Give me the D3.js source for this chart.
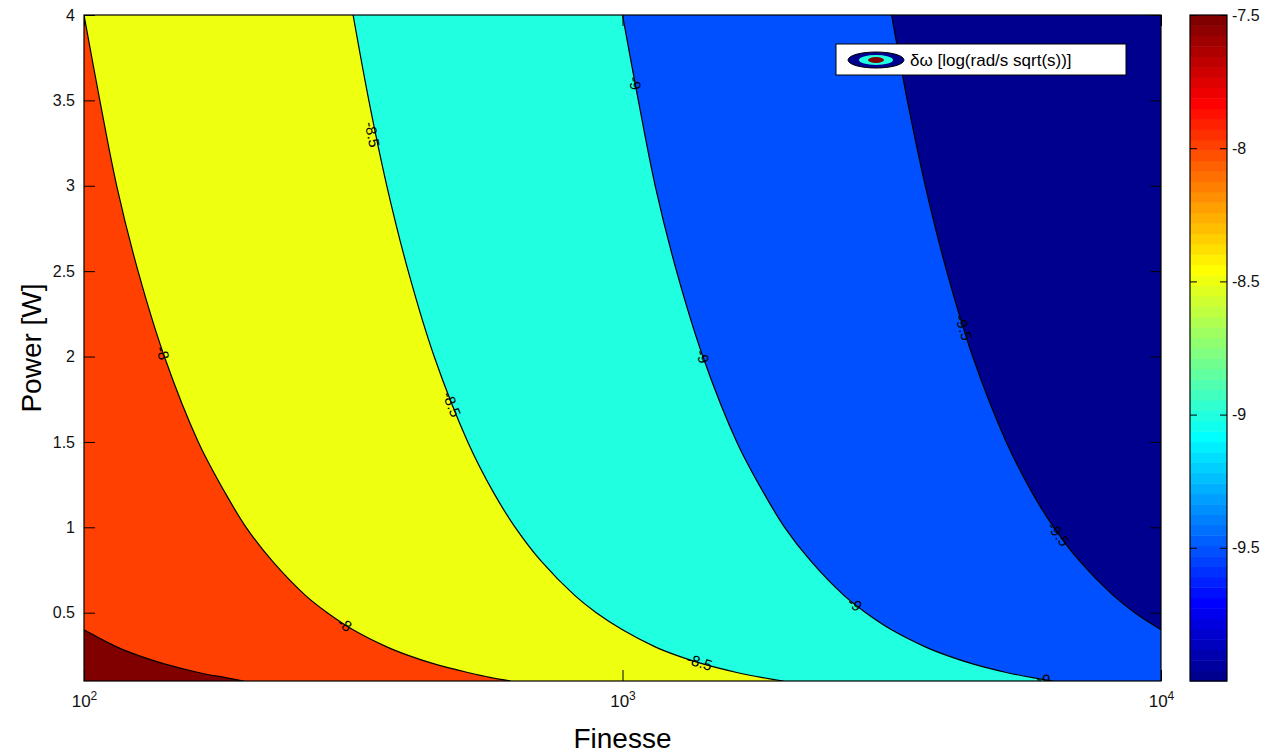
<!DOCTYPE html>
<html>
<head>
<style>
  body { margin: 0; background: #fff; }
  text { font-family: "Liberation Sans", Arial, sans-serif; }
</style>
</head>
<body>

<script src="https://d3js.org/d3.v7.min.js"></script>
<script>

const width = 1282;
const height = 753;

// axis ticks
const finesseTicks = [100, 1000, 10000];
const powerTicks = [0.5, 1, 1.5, 2, 2.5, 3, 3.5, 4];
const colorTicks = [-9.5, -9, -8.5, -8, -7.5];

// contour levels and the [finesse, power] points
const levels = [-9.5, -9, -8.5, -8, -7.5];
const line_m95 = [[3160, 4], [3380, 3.5], [3650, 3], [4000, 2.5], [4470, 2], [5160, 1.5], [5770, 1.2], [6320, 1], [7070, 0.8], [8160, 0.6], [8940, 0.5], [10000, 0.4]];
const line_m9 = [[1000, 4], [1070, 3.5], [1150, 3], [1260, 2.5], [1410, 2], [1630, 1.5], [1830, 1.2], [2000, 1], [2240, 0.8], [2580, 0.6], [2830, 0.5], [3160, 0.4], [3650, 0.3], [4000, 0.25], [4470, 0.2], [5160, 0.15], [5770, 0.12], [6300, 0.1]];
const line_m85 = [[316, 4], [338, 3.5], [365, 3], [400, 2.5], [447, 2], [516, 1.5], [577, 1.2], [632, 1], [707, 0.8], [816, 0.6], [894, 0.5], [1000, 0.4], [1150, 0.3], [1260, 0.25], [1410, 0.2], [1630, 0.15], [1820, 0.12], [1990, 0.1]];
const line_m8 = [[100, 4], [107, 3.5], [115, 3], [126, 2.5], [141, 2], [163, 1.5], [183, 1.2], [200, 1], [224, 0.8], [258, 0.6], [283, 0.5], [316, 0.4], [365, 0.3], [400, 0.25], [447, 0.2], [516, 0.15], [570, 0.12], [620, 0.1]];
const line_m75 = [[100, 0.4], [115, 0.3], [126, 0.25], [141, 0.2], [163, 0.15], [183, 0.12], [198, 0.1]];
const contourLines = [line_m95, line_m9, line_m85, line_m8, line_m75];

// inline labels: [level, finesse, power]
const contourLabels = [
  [-8, 140, 2.02], [-8, 305, 0.43],
  [-8.5, 343, 3.3], [-8.5, 482, 1.72], [-8.5, 1390, 0.21],
  [-9, 1055, 3.6], [-9, 1410, 2.0], [-9, 2700, 0.55], [-9, 6050, 0.11],
  [-9.5, 4300, 2.17], [-9.5, 6450, 0.96]
];

const cmin = -10, cmax = -7.5;

// MATLAB jet(64)
const jet = (() => {
  const m = 64, n = 16, u = [];
  for (let k = 1; k <= n; k++) u.push(k / n);
  for (let k = 1; k < n; k++) u.push(1);
  for (let k = n; k >= 1; k--) u.push(k / n);
  const map = d3.range(m).map(() => [0, 0, 0]);
  u.forEach((v, j) => {
    const g = 8 + j, r = g + n, b = g - n;   // 0-based
    if (r >= 0 && r < m) map[r][0] = v;
    if (g >= 0 && g < m) map[g][1] = v;
    if (b >= 0 && b < m) map[b][2] = v;
  });
  return map.map(c => d3.rgb(c[0] * 255, c[1] * 255, c[2] * 255).toString());
})();
const colorOf = v => jet[Math.max(0, Math.min(63, Math.floor((v - cmin) / (cmax - cmin) * 64)))];

const svg = d3.select('body')
              .append('svg')
              .attr('width', width)
              .attr('height', height);

const plot = { left: 84, right: 1161, top: 15, bottom: 681 };

const x = d3.scaleLog().domain([100, 10000]).range([plot.left, plot.right]);
const y = d3.scaleLinear().domain([0.1, 4]).range([plot.bottom, plot.top]);

svg.append('clipPath').attr('id', 'clip')
   .append('rect')
   .attr('x', plot.left).attr('y', plot.top)
   .attr('width', plot.right - plot.left).attr('height', plot.bottom - plot.top);

const g = svg.append('g').attr('clip-path', 'url(#clip)');

// lowest band
g.append('rect')
 .attr('x', plot.left).attr('y', plot.top)
 .attr('width', plot.right - plot.left).attr('height', plot.bottom - plot.top)
 .attr('fill', colorOf(cmin));

const lineGen = d3.line()
                  .x(d => x(d[0]))
                  .y(d => y(d[1]))
                  .curve(d3.curveCatmullRom);

// region above each level: line + lower-left corners
const regionPath = pts => {
  const corners = [];
  const last = pts[pts.length - 1];
  if (last[0] >= 10000) corners.push([10000, 0.1]);
  corners.push([100, 0.1], [100, 4]);
  return lineGen(pts) + corners.map(c => `L${x(c[0])},${y(c[1])}`).join('') + 'Z';
};

g.selectAll('path.band')
 .data(levels)
 .enter()
 .append('path')
 .attr('class', 'band')
 .attr('d', (lv, i) => regionPath(contourLines[i]))
 .attr('fill', lv => colorOf(lv));

g.selectAll('path.cline')
 .data(contourLines)
 .enter()
 .append('path')
 .attr('class', 'cline')
 .attr('d', lineGen)
 .attr('fill', 'none')
 .attr('stroke', '#000')
 .attr('stroke-width', 1.2);

// contour labels rotated along the line
const labelAngle = (lv, f, p) => {
  const pts = contourLines[levels.indexOf(lv)].map(d => [x(d[0]), y(d[1])]);
  const px = x(f), py = y(p);
  let best = 0, bd = Infinity;
  for (let i = 0; i < pts.length - 1; i++) {
    const mx = (pts[i][0] + pts[i + 1][0]) / 2, my = (pts[i][1] + pts[i + 1][1]) / 2;
    const dd = (mx - px) ** 2 + (my - py) ** 2;
    if (dd < bd) { bd = dd; best = i; }
  }
  let a = Math.atan2(pts[best + 1][1] - pts[best][1], pts[best + 1][0] - pts[best][0]) * 180 / Math.PI;
  if (a > 90) a -= 180;
  if (a <= -90) a += 180;
  return a;
};

g.selectAll('text.clabel')
 .data(contourLabels)
 .enter()
 .append('text')
 .attr('class', 'clabel')
 .attr('transform', d => `translate(${x(d[1])},${y(d[2])}) rotate(${labelAngle(d[0], d[1], d[2])})`)
 .attr('text-anchor', 'middle')
 .attr('dy', '0.35em')
 .attr('font-size', '15px')
 .attr('fill', '#000')
 .text(d => String(d[0]));

// axes
const yAxis = d3.axisLeft(y).tickValues(powerTicks).tickSizeInner(-11).tickSizeOuter(0).tickPadding(9)
                .tickFormat(d => String(d));
const yAxisR = d3.axisRight(y).tickValues(powerTicks).tickSizeInner(-11).tickSizeOuter(0).tickFormat('');
const xAxis = d3.axisBottom(x).tickValues(finesseTicks).tickSizeInner(-11).tickSizeOuter(0).tickPadding(14);
const xAxisT = d3.axisTop(x).tickValues(finesseTicks).tickSizeInner(-11).tickSizeOuter(0).tickFormat('');

const styleAxis = sel => {
  sel.selectAll('path.domain').remove();
  sel.selectAll('line').attr('stroke', '#000');
  sel.selectAll('text').attr('font-size', '16px').attr('fill', '#111')
     .attr('font-family', '"Liberation Sans", Arial, sans-serif');
};

svg.append('g').attr('transform', `translate(${plot.left},0)`).call(yAxis).call(styleAxis);
svg.append('g').attr('transform', `translate(${plot.right},0)`).call(yAxisR).call(styleAxis);
svg.append('g').attr('transform', `translate(0,${plot.top})`).call(xAxisT).call(styleAxis);

const xg = svg.append('g').attr('transform', `translate(0,${plot.bottom})`).call(xAxis).call(styleAxis);
xg.selectAll('.tick text').each(function (d) {
  const t = d3.select(this).text(null).attr('font-size', '17px');
  t.append('tspan').text('10');
  t.append('tspan').attr('dy', '-0.6em').attr('font-size', '12px').text(Math.round(Math.log10(d)));
});

svg.append('rect')
   .attr('x', plot.left).attr('y', plot.top)
   .attr('width', plot.right - plot.left).attr('height', plot.bottom - plot.top)
   .attr('fill', 'none').attr('stroke', '#000').attr('stroke-width', 1.2);

// axis titles
svg.append('text')
   .attr('x', (plot.left + plot.right) / 2).attr('y', 748)
   .attr('text-anchor', 'middle')
   .attr('font-size', '28px')
   .attr('fill', '#000')
   .text('Finesse');

svg.append('text')
   .attr('transform', `translate(41,${(plot.top + plot.bottom) / 2}) rotate(-90)`)
   .attr('text-anchor', 'middle')
   .attr('font-size', '28px')
   .attr('fill', '#000')
   .text('Power [W]');

// legend
const leg = svg.append('g').attr('transform', 'translate(836,44)');
leg.append('rect').attr('width', 290).attr('height', 31).attr('fill', '#fff').attr('stroke', '#000');
leg.append('ellipse').attr('cx', 40).attr('cy', 16).attr('rx', 28).attr('ry', 8)
   .attr('fill', colorOf(cmin)).attr('stroke', '#000');
leg.append('ellipse').attr('cx', 40).attr('cy', 16).attr('rx', 17).attr('ry', 5)
   .attr('fill', colorOf(-9));
leg.append('ellipse').attr('cx', 40).attr('cy', 16).attr('rx', 8).attr('ry', 3)
   .attr('fill', colorOf(-7.5));
leg.append('text').attr('x', 74).attr('y', 22)
   .attr('font-size', '17px').attr('fill', '#000')
   .text('δω [log(rad/s sqrt(s))]');

// colorbar
const cb = { left: 1190, right: 1227 };
const cy = d3.scaleLinear().domain([cmin, cmax]).range([plot.bottom, plot.top]);
const step = (cmax - cmin) / 64;

svg.append('g').selectAll('rect')
   .data(d3.range(64))
   .enter()
   .append('rect')
   .attr('x', cb.left)
   .attr('y', i => cy(cmin + (i + 1) * step))
   .attr('width', cb.right - cb.left)
   .attr('height', i => cy(cmin + i * step) - cy(cmin + (i + 1) * step) + 0.5)
   .attr('fill', i => jet[i]);

const cAxisR = d3.axisRight(cy).tickValues(colorTicks).tickSizeInner(-7).tickSizeOuter(0).tickPadding(5)
                 .tickFormat(d => String(d));
const cAxisL = d3.axisLeft(cy).tickValues(colorTicks).tickSizeInner(-7).tickSizeOuter(0).tickFormat('');

svg.append('g').attr('transform', `translate(${cb.right},0)`).call(cAxisR).call(styleAxis);
svg.append('g').attr('transform', `translate(${cb.left},0)`).call(cAxisL).call(styleAxis);

svg.append('rect')
   .attr('x', cb.left).attr('y', plot.top)
   .attr('width', cb.right - cb.left).attr('height', plot.bottom - plot.top)
   .attr('fill', 'none').attr('stroke', '#000').attr('stroke-width', 1.2);

</script>
</body>
</html>
